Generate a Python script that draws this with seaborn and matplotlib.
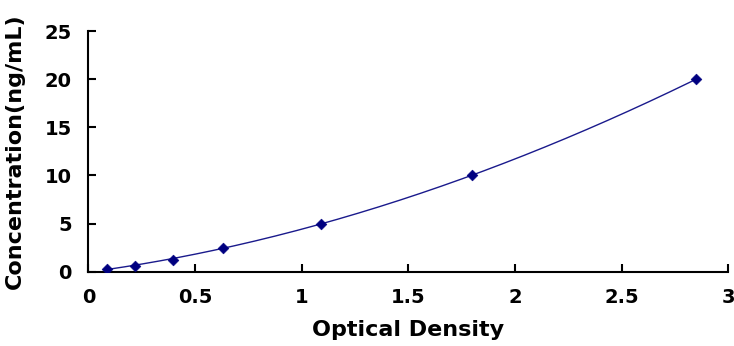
import numpy as np
import pandas as pd
import matplotlib
matplotlib.use("Agg")
import matplotlib.pyplot as plt
import seaborn as sns

od = [0.086, 0.22, 0.395, 0.63, 1.09, 1.80, 2.85]
conc = [0.312, 0.625, 1.25, 2.5, 5, 10, 20]
xticks = [0, 0.5, 1, 1.5, 2, 2.5, 3]
yticks = [0, 5, 10, 15, 20, 25]

sns.set_style("white")
plt.rcParams['font.family'] = ['DejaVu Sans']
plt.rcParams['text.color'] = 'black'
plt.rcParams['axes.labelcolor'] = 'black'

fig = plt.figure(figsize=(7.34, 3.46), dpi=100)
ax = fig.add_axes([0.1204, 0.2147, 0.8716, 0.6957])

df = pd.DataFrame({"od": od, "conc": conc})
coef = np.polyfit(od, conc, 3)
xs = np.linspace(min(od), max(od), 200)
fit = pd.DataFrame({"od": xs, "conc": np.polyval(coef, xs)})
sns.lineplot(data=fit, x="od", y="conc", ax=ax, color="#1a1a8c", linewidth=1.0)
sns.scatterplot(data=df, x="od", y="conc", ax=ax, marker="D", s=30, color="#000080", edgecolor="#000080", zorder=3)

ax.set_xlim(0, 3)
ax.set_ylim(0, 25)
ax.set_xticks(xticks)
ax.set_xticklabels(["0", "0.5", "1", "1.5", "2", "2.5", "3"])
ax.set_yticks(yticks)
for s in ["top", "right"]:
    ax.spines[s].set_visible(False)
for s in ["left", "bottom"]:
    ax.spines[s].set_color("black")
    ax.spines[s].set_linewidth(1.5)
ax.tick_params(axis="both", direction="in", length=6, width=1.5, colors="black",
               labelsize=14, bottom=True, left=True)
ax.tick_params(axis="x", pad=12)
ax.tick_params(axis="y", pad=12)
for lab in ax.get_xticklabels() + ax.get_yticklabels():
    lab.set_fontweight("bold")
    lab.set_color("black")
ax.set_xlabel("Optical Density", fontsize=16, fontweight="bold", labelpad=9, color="black")
ax.set_ylabel("Concentration(ng/mL)", fontsize=16, fontweight="bold", labelpad=14, color="black")
ax.grid(False)

fig.savefig("out.png", dpi=100)
